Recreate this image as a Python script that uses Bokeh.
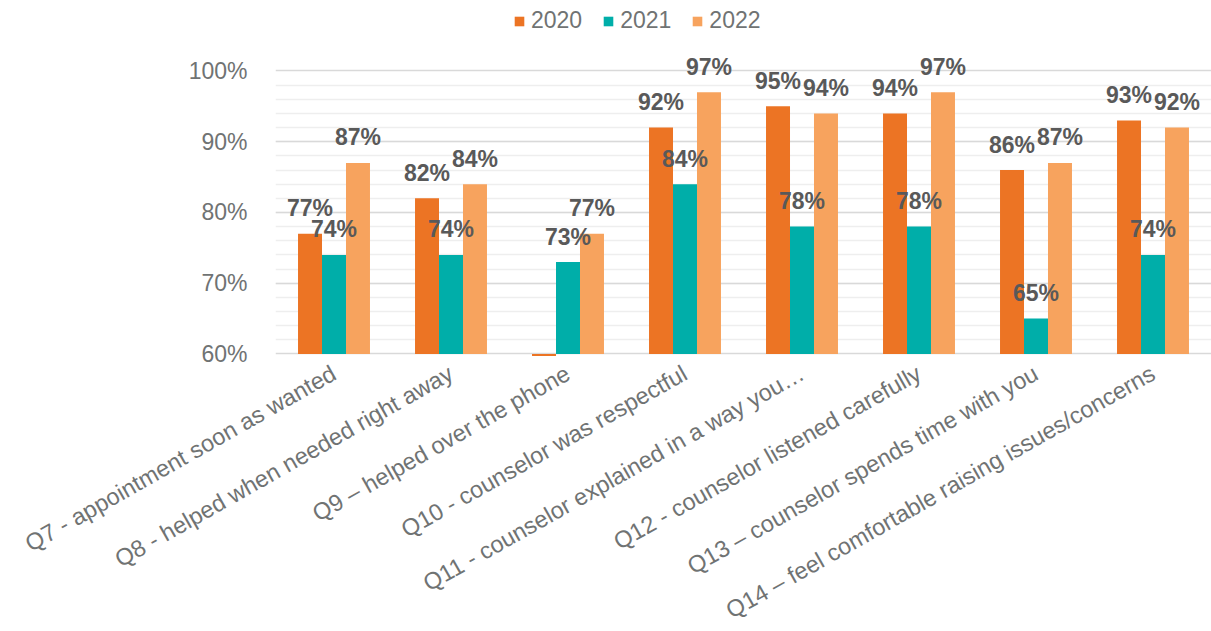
from bokeh.plotting import figure
from bokeh.models import ColumnDataSource, FactorRange, Range1d, FixedTicker, Legend, LegendItem
from bokeh.transform import dodge
from bokeh.core.properties import value
from bokeh.embed import file_html
from bokeh.resources import INLINE

categories = [
    "Q7 - appointment soon as wanted",
    "Q8 - helped when needed right away",
    "Q9 \u2013 helped over the phone",
    "Q10 - counselor was respectful",
    "Q11 - counselor explained in a way you\u2026",
    "Q12 - counselor listened carefully",
    "Q13 \u2013 counselor spends time with you",
    "Q14 \u2013 feel comfortable raising issues/concerns",
]
series_names = ["2020", "2021", "2022"]
v2020 = [77, 82, 59.7, 92, 95, 94, 86, 93]
v2021 = [74, 74, 73, 84, 78, 78, 65, 74]
v2022 = [87, 84, 77, 97, 94, 97, 87, 92]
lab2020 = ["77%", "82%", "", "92%", "95%", "94%", "86%", "93%"]
lab2021 = ["74%", "74%", "73%", "84%", "78%", "78%", "65%", "74%"]
lab2022 = ["87%", "84%", "77%", "97%", "94%", "97%", "87%", "92%"]
y_ticks = [60, 70, 80, 90, 100]
y_tick_labels = {60: "60%", 70: "70%", 80: "80%", 90: "90%", 100: "100%"}

colors = ["#EC7424", "#00AEA9", "#F7A35E"]
BASE = 60
LABEL_OFFSET = 3.6  # data units above bar top

src = ColumnDataSource(dict(
    cat=categories,
    v2020=v2020, v2021=v2021, v2022=v2022,
    y2020=[v + LABEL_OFFSET for v in v2020],
    y2021=[v + LABEL_OFFSET for v in v2021],
    y2022=[v + LABEL_OFFSET for v in v2022],
    l2020=lab2020, l2021=lab2021, l2022=lab2022,
))

FRAME_H = 357
p = figure(
    frame_width=936, frame_height=FRAME_H,
    x_range=FactorRange(*categories, range_padding=0),
    y_range=Range1d(59.5, 59.5 + FRAME_H / 7.075),
    output_backend="svg", toolbar_location=None,
    min_border_left=275, min_border_right=0, min_border_top=0, min_border_bottom=270,
)
p.outline_line_color = None
p.background_fill_color = "white"
p.border_fill_color = "white"

bw = 0.205
offsets = [-bw, 0, bw]
renderers = []
for name, off, col in zip(series_names, offsets, colors):
    r = p.vbar(x=dodge("cat", off, range=p.x_range), bottom=BASE, top="v" + name,
               width=bw, source=src, fill_color=col, line_color=None)
    renderers.append(r)
for name, off in zip(series_names, offsets):
    p.text(x=dodge("cat", off, range=p.x_range), y="y" + name, text="l" + name, source=src,
           text_align="center", text_baseline="middle",
           text_font=value("Liberation Sans"), text_font_style="bold",
           text_font_size="23px", text_color="#595959")

# axes
p.yaxis.ticker = FixedTicker(ticks=y_ticks, minor_ticks=list(range(62, 100, 2)))
p.yaxis.major_label_overrides = y_tick_labels
p.yaxis.axis_line_color = None
p.yaxis.major_tick_line_color = None
p.yaxis.minor_tick_line_color = None
p.yaxis.major_label_text_font = "Liberation Sans"
p.yaxis.major_label_text_font_size = "23px"
p.yaxis.major_label_text_color = "#707373"
p.yaxis.major_label_standoff = 22

p.xaxis.axis_line_color = None
p.xaxis.major_tick_line_color = None
p.xaxis.minor_tick_line_color = None
p.xaxis.major_label_orientation = 0.515
p.xaxis.major_label_text_font = "Liberation Sans"
p.xaxis.major_label_text_font_size = "23.5px"
p.xaxis.major_label_text_color = "#707373"
p.xaxis.major_label_standoff = 8

p.xgrid.grid_line_color = None
p.ygrid.grid_line_color = "#d9d9d9"
p.ygrid.grid_line_width = 1.5
p.ygrid.minor_grid_line_color = "#eeeeee"
p.ygrid.minor_grid_line_width = 1.5

legend = Legend(
    items=[LegendItem(label=n, renderers=[r]) for n, r in zip(series_names, renderers)],
    orientation="horizontal", location=(238, FRAME_H - 34),
    label_text_font="Liberation Sans", label_text_font_size="23px", label_text_color="#707373",
    glyph_width=12, glyph_height=12, label_standoff=6, spacing=20,
    padding=0, margin=0, border_line_color=None, background_fill_alpha=0,
)
p.add_layout(legend, "center")

open("out.html", "w").write(file_html(p, INLINE))
